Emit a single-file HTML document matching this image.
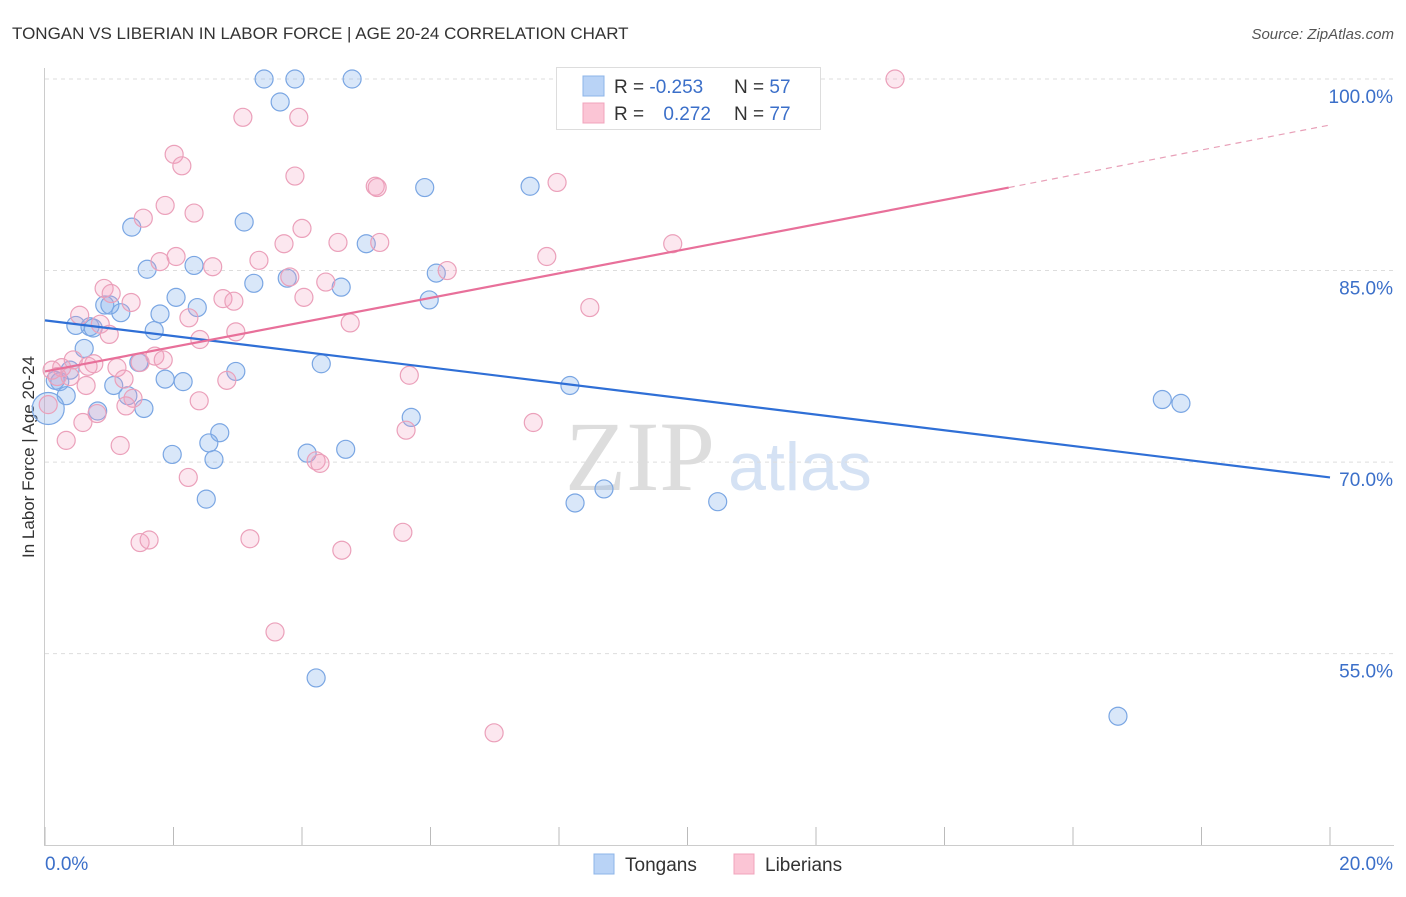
<!DOCTYPE html>
<html><head><meta charset="utf-8"><style>
body{margin:0;background:#fff;font-family:"Liberation Sans",sans-serif}
svg text{font-family:"Liberation Sans",sans-serif}
</style></head><body>
<svg id="c" width="1406" height="892" xmlns="http://www.w3.org/2000/svg">
<text x="12" y="39" font-size="17" fill="#333">TONGAN VS LIBERIAN IN LABOR FORCE | AGE 20-24 CORRELATION CHART</text>
<text x="1394" y="39" font-size="15" fill="#555" font-style="italic" text-anchor="end">Source: ZipAtlas.com</text>
<text x="34" y="457" font-size="17" fill="#333" text-anchor="middle" transform="rotate(-90 34 457)">In Labor Force | Age 20-24</text>
<text x="640" y="490" font-size="100" fill="#ddd" font-family="Liberation Serif" text-anchor="middle" style="font-family:'Liberation Serif',serif">ZIP</text>
<text x="800" y="490" font-size="68" fill="#d5e2f4" text-anchor="middle">atlas</text>
<g id="grid"></g><g id="pts"></g><g id="lines"></g>
<g>
<rect x="556.5" y="67.5" width="264" height="62" fill="#fff" stroke="#ddd"/>
<rect x="583" y="76" width="21" height="20" fill="#b9d3f6" stroke="#8db4e8"/>
<rect x="583" y="103" width="21" height="20" fill="#fbc5d5" stroke="#f0a4bc"/>
<text x="614" y="93" font-size="19" fill="#333">R = <tspan fill="#3b6fc9">-0.253</tspan></text>
<text x="734" y="93" font-size="19" fill="#333">N = <tspan fill="#3b6fc9">57</tspan></text>
<text x="614" y="120" font-size="19" fill="#333">R = <tspan fill="#3b6fc9" dx="14">0.272</tspan></text>
<text x="734" y="120" font-size="19" fill="#333">N = <tspan fill="#3b6fc9">77</tspan></text>
</g>
<g>
<rect x="594" y="854" width="20" height="20" fill="#b9d3f6" stroke="#8db4e8"/>
<text x="625" y="871" font-size="19" fill="#333">Tongans</text>
<rect x="734" y="854" width="20" height="20" fill="#fbc5d5" stroke="#f0a4bc"/>
<text x="765" y="871" font-size="19" fill="#333">Liberians</text>
</g>
</svg>
<script>
const yTicks=[100,85,70,55];
const yTickLabels=["100.0%","85.0%","70.0%","55.0%"];
const xTickLabels=["0.0%","20.0%"];
const tonganX=[3.41,3.89,4.78,3.66,5.91,7.55,1.35,3.10,5.00,1.59,2.32,3.25,3.77,4.61,6.09,2.04,2.37,0.93,1.01,1.18,1.79,5.98,0.48,0.70,0.75,1.70,0.61,1.46,4.30,2.97,1.87,2.15,1.07,8.17,0.16,0.23,0.39,0.33,1.29,0.82,1.54,5.70,17.39,17.68,2.72,2.55,1.98,2.63,4.08,4.68,2.51,8.25,8.70,10.47,4.22,16.70,0.05];
const tonganY=[100,100,100,98.2,91.5,91.6,88.4,88.8,87.1,85.1,85.4,84.0,84.4,83.7,84.8,82.9,82.1,82.3,82.3,81.7,81.6,82.7,80.7,80.6,80.5,80.3,78.9,77.8,77.7,77.1,76.5,76.3,76.0,76.0,76.4,76.3,77.2,75.2,75.2,74.0,74.2,73.5,74.9,74.6,72.3,71.5,70.6,70.2,70.7,71.0,67.1,66.8,67.9,66.9,53.1,50.1,74.2];
const liberianX=[13.23,3.08,3.95,2.01,2.13,3.89,5.14,5.17,7.97,1.87,2.32,1.53,4.00,3.72,4.56,5.21,9.77,7.81,1.79,2.04,2.61,3.33,3.81,4.37,6.26,0.92,1.03,1.34,2.77,2.94,4.03,8.48,0.54,2.24,0.86,1.00,2.97,4.75,2.41,1.71,1.84,0.44,0.26,0.11,0.76,0.67,1.12,1.48,0.19,0.64,1.23,2.83,5.67,0.39,1.37,1.26,2.40,0.81,0.59,7.60,5.62,0.33,1.17,4.22,4.28,2.23,5.57,1.48,1.62,3.19,4.62,3.58,6.99,0.05,10.8];
const liberianY=[100,97.0,97.0,94.1,93.2,92.4,91.6,91.5,91.9,90.1,89.5,89.1,88.3,87.1,87.2,87.2,87.1,86.1,85.7,86.1,85.3,85.8,84.5,84.1,85.0,83.6,83.2,82.5,82.8,82.6,82.9,82.1,81.5,81.3,80.8,80.0,80.2,80.9,79.6,78.3,78.0,78.0,77.4,77.2,77.7,77.5,77.4,77.8,76.7,76.0,76.5,76.4,76.8,76.7,75.0,74.4,74.8,73.8,73.1,73.1,72.5,71.7,71.3,70.1,69.9,68.8,64.5,63.7,63.9,64.0,63.1,56.7,48.8,74.5,100];
const tonganTrend=[81.1,68.8];
const liberianTrend=[77.1,91.5,96.4];
const X=v=>45+v*64.25, Y=v=>79+(100-v)*12.77;
const NS="http://www.w3.org/2000/svg";
function mk(t,a,p){const e=document.createElementNS(NS,t);for(const k in a)e.setAttribute(k,a[k]);p.appendChild(e);return e;}
const grid=document.getElementById('grid');
yTicks.forEach((t,i)=>{
 const l=mk('line',{x1:45,x2:1394,y1:Y(t),y2:Y(t),stroke:'#ddd','stroke-dasharray':'4,4'},grid);
 
 
 const tx=mk('text',{x:1393,y:Y(t)+24,'font-size':19,fill:'#3b6fc9','text-anchor':'end'},grid);tx.textContent=yTickLabels[i];
 
 
});
const ax=mk('line',{x1:44.5,x2:44.5,y1:68,y2:845,stroke:'#ccc'},grid);


const bx=mk('line',{x1:44,x2:1394,y1:845.5,y2:845.5,stroke:'#ccc'},grid);


for(let i=0;i<=10;i++){const t=mk('line',{x1:X(i*2),x2:X(i*2),y1:827,y2:845,stroke:'#bbb'},grid);
 
 }
[[0,'start',45],[1,'end',1393]].forEach(([i,a,x])=>{const t=mk('text',{x:x,y:870,'font-size':19,fill:'#3b6fc9','text-anchor':a},grid);t.textContent=xTickLabels[i];
 
 });
const pts=document.getElementById('pts');
function dots(xs,ys,f,s,name){xs.forEach((x,i)=>{const big=i===xs.length-1&&x<0.1;
 const c=mk('circle',{cx:X(x),cy:Y(ys[i]),r:big?16:9,fill:f,stroke:s,'stroke-width':1.2},pts);
 
 });}
dots(tonganX,tonganY,'rgba(130,175,235,0.3)','#7aa6e3','tongan-point');
dots(liberianX,liberianY,'rgba(245,160,190,0.25)','#eba0ba','liberian-point');
const lines=document.getElementById('lines');
const b=mk('line',{x1:X(0),y1:Y(tonganTrend[0]),x2:X(20),y2:Y(tonganTrend[1]),stroke:'#2f6fd6','stroke-width':2.2},lines);


const p=mk('line',{x1:X(0),y1:Y(liberianTrend[0]),x2:X(15),y2:Y(liberianTrend[1]),stroke:'#e8709a','stroke-width':2.2},lines);


const pd=mk('line',{x1:X(15),y1:Y(liberianTrend[1]),x2:X(20),y2:Y(liberianTrend[2]),stroke:'#e8a0b8','stroke-width':1.2,'stroke-dasharray':'6,5'},lines);


</script>
</body></html>
